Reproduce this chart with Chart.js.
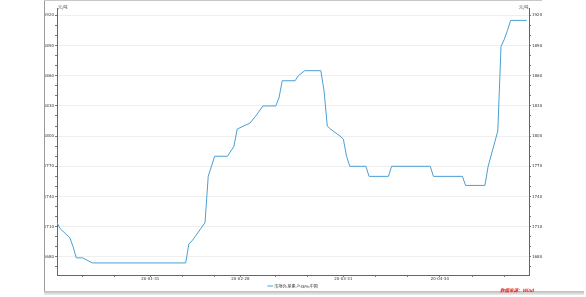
<!DOCTYPE html>
<html>
<head>
<meta charset="utf-8">
<script src="https://cdn.jsdelivr.net/npm/chart.js@4.4.1/dist/chart.umd.min.js"></script>
<style>
  html, body { margin: 0; padding: 0; background: #fff; }
  #wrap { position: relative; width: 586px; height: 297px; overflow: hidden; font-family: "Noto Sans CJK SC", "DejaVu Sans", sans-serif; }
  #chart { position: absolute; left: 0; top: 0; }
  .frameL { position: absolute; left: 44px; top: 0; width: 1px; height: 293px; background: #9a9a9a; }
  .frameT { position: absolute; left: 44px; top: 0; width: 498px; height: 1px; background: #c8c8c8; }
  .shadow { position: absolute; left: 44px; top: 291px; width: 540px; height: 4px; background: linear-gradient(#bbb, #eee); }
  .unit { position: absolute; top: 4px; font-size: 4px; color: #444; }
  .src { position: absolute; left: 500px; top: 287px; font-size: 4.5px; color: #e8201e; font-style: italic; font-weight: bold; }
</style>
</head>
<body>
<div id="wrap">
  <canvas id="chart" width="586" height="297"></canvas>
  <div class="frameL"></div>
  <div class="frameT"></div>
  <div class="shadow"></div>
  <div class="unit" style="left:58px">元/吨</div>
  <div class="unit" style="left:519px">元/吨</div>
  <div class="src">数据来源：Wind</div>
</div>
<script>
const seriesName = '市场价:尿素:≥46%:中国';

const dates = [
  '2020-01-02', '2020-01-03', '2020-01-06', '2020-01-07', '2020-01-08', '2020-01-10', '2020-01-13',
  '2020-02-11', '2020-02-12', '2020-02-13', '2020-02-17', '2020-02-18', '2020-02-20', '2020-02-24',
  '2020-02-26', '2020-02-27', '2020-03-02', '2020-03-04', '2020-03-06', '2020-03-10', '2020-03-11',
  '2020-03-12', '2020-03-16', '2020-03-17', '2020-03-19', '2020-03-24', '2020-03-25', '2020-03-26',
  '2020-03-27', '2020-03-30', '2020-03-31', '2020-04-01', '2020-04-02', '2020-04-07', '2020-04-08',
  '2020-04-14', '2020-04-15', '2020-04-27', '2020-04-28', '2020-05-07', '2020-05-08', '2020-05-14',
  '2020-05-15', '2020-05-18', '2020-05-19', '2020-05-20', '2020-05-21', '2020-05-22', '2020-05-27'
];

const prices = [
  1714, 1708, 1699, 1690, 1679, 1679, 1674,
  1674, 1693, 1696, 1714, 1760, 1780, 1780,
  1790, 1807, 1813, 1821, 1830, 1830, 1838,
  1855, 1855, 1860, 1865, 1865, 1845, 1810,
  1807, 1800, 1797, 1780, 1770, 1770, 1760,
  1760, 1770, 1770, 1760, 1760, 1751, 1751,
  1770, 1805, 1889, 1896, 1905, 1915, 1915
];

const xLabelDates = ['2020-01-31', '2020-02-28', '2020-03-31', '2020-04-30'];
const xTickDates = [
  '2020-01-10', '2020-01-20', '2020-01-31', '2020-02-10', '2020-02-20', '2020-02-28',
  '2020-03-10', '2020-03-20', '2020-03-31', '2020-04-10', '2020-04-20', '2020-04-30',
  '2020-05-10', '2020-05-20'
];
const yMajorTicks = [1680, 1710, 1740, 1770, 1800, 1830, 1860, 1890, 1920];

// days since 2020-01-01
const dayOf = s => {
  const [y, m, d] = s.split('-').map(Number);
  return (Date.UTC(y, m - 1, d) - Date.UTC(2020, 0, 1)) / 86400000;
};

const labelMap = {};
xLabelDates.forEach(s => { labelMap[dayOf(s)] = s.slice(2); });

const points = dates.map((d, i) => ({ x: dayOf(d), y: prices[i] }));

const yMin = 1662, yMax = 1927.3;
const yTickValues = [];
for (let v = 1670; v <= 1920; v += 10) yTickValues.push(v);

const tickFont = { size: 4, family: 'DejaVu Sans' };

const yAxis = (pos) => ({
  type: 'linear',
  position: pos,
  min: yMin,
  max: yMax,
  afterFit: s => { s.width = 13; },
  afterBuildTicks: s => { s.ticks = yTickValues.map(v => ({ value: v })); },
  ticks: {
    font: tickFont,
    color: '#333',
    padding: 1,
    autoSkip: false,
    maxRotation: 0,
    callback: v => yMajorTicks.includes(v) ? String(v) : ''
  },
  grid: {
    drawOnChartArea: pos === 'left',
    color: ctx => yMajorTicks.includes(ctx.tick && ctx.tick.value) ? '#efefef' : 'rgba(0,0,0,0)',
    tickColor: '#777',
    tickLength: 2
  },
  border: { color: '#666', width: 1 }
});

new Chart(document.getElementById('chart'), {
  type: 'line',
  data: {
    datasets: [{
      label: seriesName,
      data: points,
      borderColor: '#4a9fd3',
      backgroundColor: '#4a9fd3',
      borderWidth: 1,
      pointRadius: 0,
      tension: 0,
      fill: false,
      yAxisID: 'y'
    }]
  },
  options: {
    responsive: false,
    animation: false,
    layout: { padding: { left: 44, right: 44, top: 8, bottom: -1 } },
    scales: {
      x: {
        type: 'linear',
        min: 1,
        max: 147.7,
        afterFit: s => { s.height = 7; },
        afterBuildTicks: s => { s.ticks = xTickDates.map(d => ({ value: dayOf(d) })); },
        ticks: {
          font: tickFont,
          color: '#333',
          padding: 0,
          autoSkip: false,
          maxRotation: 0,
          callback: v => labelMap[v] || ''
        },
        grid: { color: 'rgba(0,0,0,0)', tickColor: '#777', tickLength: 2 },
        border: { color: '#666', width: 1 }
      },
      y: yAxis('left'),
      y2: yAxis('right')
    },
    plugins: {
      legend: {
        display: true,
        position: 'bottom',
        labels: {
          usePointStyle: true,
          pointStyle: 'line',
          boxWidth: 8,
          boxHeight: 4,
          padding: 2,
          color: '#333',
          font: { size: 4, family: 'Noto Sans CJK SC' }
        }
      },
      tooltip: { enabled: false }
    }
  }
});
</script>
</body>
</html>
